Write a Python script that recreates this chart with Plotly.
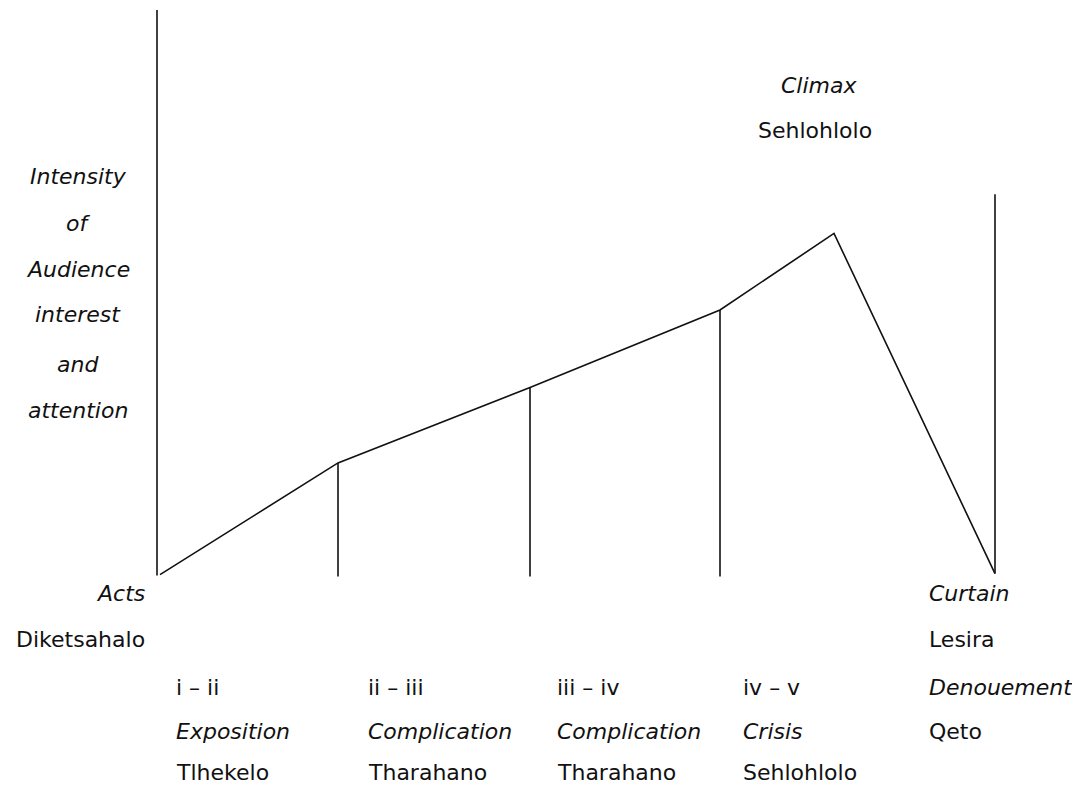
import plotly.graph_objects as go

# Plot curve: act boundaries (x) and intensity (y, in a 0..785 scale)
act_x = [160, 338, 530, 720, 834, 995]
intensity = [214, 325, 400, 477, 553, 215]

# Vertical markers at act boundaries: x, top intensity
vline_x = [338, 530, 720]
vline_top = [325, 400, 477]
vline_bottom = 212

axis_x = 157
axis_top = 775
axis_bottom = 213
curtain_x = 995
curtain_top = 592
curtain_bottom = 215

ylabel_lines = ["Intensity", "of", "Audience", "interest", "and", "attention"]

act_numbers = ["i \u2013 ii", "ii \u2013 iii", "iii \u2013 iv", "iv \u2013 v"]
act_terms = ["Exposition", "Complication", "Complication", "Crisis"]
act_sesotho = ["Tlhekelo", "Tharahano", "Tharahano", "Sehlohlolo"]
act_label_x = [175, 367, 556, 742]

FONT = "DejaVu Sans, Verdana, sans-serif"
FS = 22

fig = go.Figure()
line = dict(color="#111111", width=1.6)

fig.add_trace(go.Scatter(x=act_x, y=intensity, mode="lines", line=line, hoverinfo="skip"))
fig.add_trace(go.Scatter(x=[axis_x, axis_x], y=[axis_bottom, axis_top], mode="lines", line=line, hoverinfo="skip"))
fig.add_trace(go.Scatter(x=[curtain_x, curtain_x], y=[curtain_bottom, curtain_top], mode="lines", line=line, hoverinfo="skip"))
for vx, vt in zip(vline_x, vline_top):
    fig.add_trace(go.Scatter(x=[vx, vx], y=[vline_bottom, vt], mode="lines", line=line, hoverinfo="skip"))

ann = []
def add(text, x, y, anchor="left", italic=False):
    t = f"<i>{text}</i>" if italic else text
    ann.append(dict(text=t, x=x, y=y, xref="x", yref="y", xanchor=anchor, yanchor="middle",
                    showarrow=False, borderpad=0,
                    font=dict(family=FONT, size=FS, color="#111111")))

ys = [610, 563, 517, 472, 423, 377]
for t, y in zip(ylabel_lines, ys):
    add(t, 78, y, "center", True)

add("Acts", 146, 195, "right", True)
add("Diketsahalo", 146, 150, "right")

for n, term, ses, x in zip(act_numbers, act_terms, act_sesotho, act_label_x):
    add(n, x, 102)
    add(term, x, 58, italic=True)
    add(ses, x, 17)

add("Curtain", 928, 195, italic=True)
add("Lesira", 928, 150)
add("Denouement", 928, 102, italic=True)
add("Qeto", 928, 58)

add("Climax", 819, 700, "center", True)
add("Sehlohlolo", 815, 655, "center")

fig.update_layout(
    width=1080, height=785,
    margin=dict(l=0, r=0, t=0, b=0),
    paper_bgcolor="white", plot_bgcolor="white",
    showlegend=False,
    xaxis=dict(range=[8, 1088], visible=False, fixedrange=True),
    yaxis=dict(range=[-3, 777], visible=False, fixedrange=True),
    annotations=ann,
)
fig.write_html("out.html")
